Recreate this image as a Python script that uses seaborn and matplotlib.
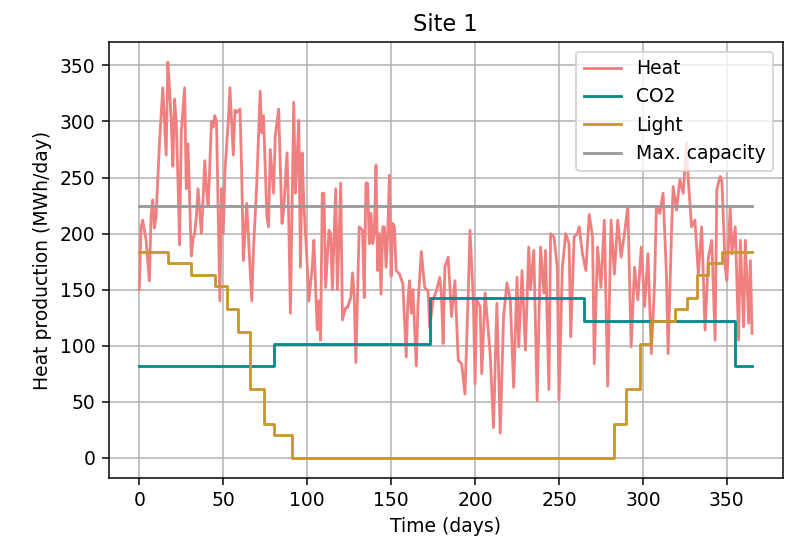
import matplotlib
matplotlib.use('Agg')
import matplotlib.pyplot as plt
import seaborn as sns
import numpy as np

# Heat production (day, MWh/day)
heat_days = [0, 1, 2, 4, 6, 7, 8, 9, 10, 12, 14, 15, 16, 17, 18, 19, 20, 21, 22, 23,
             24, 25, 26, 27, 28, 29, 30, 31, 32, 33, 34, 35, 36, 37, 38, 39, 40, 41, 42, 43,
             44, 45, 46, 47, 48, 49, 50, 51, 53, 54, 55, 56, 57, 58, 60, 61, 62, 64, 67, 68,
             70, 72, 73, 74, 75, 76, 77, 78, 80, 81, 83, 84, 85, 86, 88, 89, 90, 92, 93, 94,
             95, 96, 97, 98, 100, 101, 103, 104, 106, 107, 108, 109, 110, 111, 113, 114, 115, 117, 118, 120,
             121, 122, 123, 124, 126, 127, 128, 129, 131, 133, 134, 135, 136, 137, 138, 139, 140, 141, 142, 143,
             144, 145, 146, 147, 148, 149, 150, 151, 152, 153, 155, 157, 159, 160, 161, 162, 163, 165, 166, 168,
             170, 172, 173, 175, 177, 179, 180, 181, 182, 184, 186, 188, 190, 192, 194, 196, 197, 199, 200, 201,
             203, 204, 206, 208, 209, 211, 213, 215, 217, 219, 221, 223, 225, 226, 228, 230, 232, 233, 235, 237,
             239, 241, 242, 244, 245, 247, 249, 250, 252, 254, 256, 257, 259, 261, 262, 264, 266, 268, 270, 271,
             273, 275, 277, 279, 281, 283, 285, 287, 289, 291, 293, 295, 297, 299, 301, 303, 305, 307, 308, 310,
             312, 314, 315, 317, 318, 320, 322, 324, 326, 327, 329, 331, 333, 335, 337, 339, 341, 343, 344, 346,
             347, 349, 350, 352, 353, 355, 357, 358, 360, 361, 363, 364, 365]
heat_values = [150, 205, 212, 195, 158, 215, 230, 205, 215, 280, 330, 300, 270, 353, 330, 300, 260, 320, 300, 250,
               190, 290, 310, 330, 240, 280, 230, 180, 195, 200, 215, 240, 220, 200, 230, 265, 240, 225, 260, 300,
               295, 305, 300, 220, 140, 240, 200, 255, 300, 330, 300, 270, 310, 308, 311, 254, 176, 227, 140, 185,
               245, 327, 290, 305, 260, 215, 206, 275, 236, 287, 311, 260, 209, 221, 272, 215, 129, 317, 236, 266,
               301, 170, 272, 227, 173, 140, 170, 194, 114, 140, 105, 236, 236, 152, 203, 200, 150, 240, 150, 245,
               123, 129, 134, 134, 143, 165, 145, 85, 206, 203, 143, 245, 245, 191, 218, 191, 200, 261, 167, 200,
               146, 206, 206, 170, 200, 252, 162, 209, 206, 167, 164, 155, 90, 140, 158, 129, 150, 82, 137, 184,
               152, 149, 116, 141, 149, 161, 145, 102, 170, 179, 126, 158, 87, 84, 57, 150, 203, 140, 66, 141,
               135, 75, 147, 111, 93, 27, 138, 22, 126, 156, 141, 63, 161, 99, 167, 96, 188, 150, 185, 51,
               188, 147, 185, 61, 200, 197, 170, 52, 170, 200, 191, 108, 197, 200, 206, 182, 167, 217, 197, 84,
               188, 152, 212, 64, 212, 164, 212, 179, 200, 224, 99, 170, 141, 188, 135, 182, 93, 158, 224, 218,
               236, 164, 93, 200, 242, 221, 248, 236, 281, 248, 206, 212, 164, 206, 114, 179, 194, 105, 239, 251,
               248, 170, 158, 224, 182, 206, 105, 194, 117, 194, 120, 176, 111]

# CO2 and Light demand levels (change day, level), drawn as steps
co2_days = [0, 80, 173, 265, 355, 365]
co2_values = [81.6, 102.0, 142.8, 122.4, 81.6, 81.6]

light_days = [0, 17, 31, 45, 52, 59, 66, 74, 80, 91, 283, 290, 298, 305, 319, 326, 332, 339, 347, 365]
light_values = [183.6, 173.4, 163.2, 153.0, 132.6, 112.2, 61.2, 30.6, 20.4, 0.0,
                30.6, 61.2, 102.0, 122.4, 132.6, 142.8, 163.2, 173.4, 183.6, 183.6]

cap_days = [0, 365]
cap_values = [225, 225]

plt.rcParams['font.family'] = ['DejaVu Sans']
plt.rcParams['font.size'] = 10

dpi = 135
fig = plt.figure(figsize=(793 / dpi, 541 / dpi), dpi=dpi)
ax = fig.add_axes([0.137, 0.117, 0.850, 0.805])

sns.lineplot(x=heat_days, y=heat_values, color='lightcoral', label='Heat', ax=ax, linewidth=1.5)
sns.lineplot(x=co2_days, y=co2_values, color='darkcyan', label='CO2', ax=ax, linewidth=1.5,
             drawstyle='steps-post')
sns.lineplot(x=light_days, y=light_values, color='#c9962a', label='Light', ax=ax, linewidth=1.5,
             drawstyle='steps-post')
sns.lineplot(x=cap_days, y=cap_values, color='#999999', label='Max. capacity', ax=ax, linewidth=1.5)

ax.set_title('Site 1')
ax.set_xlabel('Time (days)')
ax.set_ylabel('Heat production (MWh/day)')
ax.set_xticks(range(0, 351, 50))
ax.set_yticks(range(0, 351, 50))
ax.grid(True)
ax.legend(loc='upper right')

fig.savefig('out.png', dpi=dpi)
